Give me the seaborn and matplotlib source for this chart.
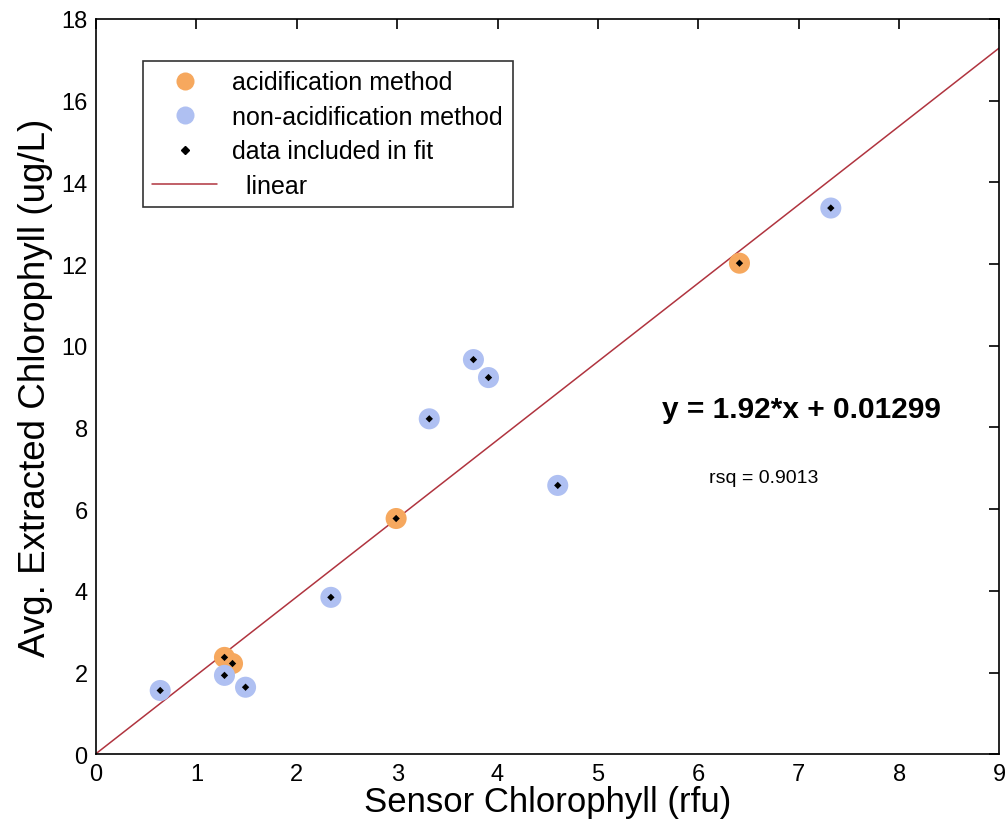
import pandas as pd
import seaborn as sns
import matplotlib.pyplot as plt
from matplotlib.lines import Line2D


# ------------------------------------------------------------------
# Data
# ------------------------------------------------------------------

acid_x = [1.28, 1.36, 2.99, 6.41]
acid_y = [2.37, 2.22, 5.77, 12.02]

nonacid_x = [0.64, 1.28, 1.49, 2.34, 3.32, 3.76, 3.91, 4.60, 7.32]
nonacid_y = [1.56, 1.93, 1.64, 3.84, 8.21, 9.66, 9.22, 6.58, 13.37]

fit_slope = 1.92
fit_intercept = 0.01299
fit_x = [0, 9]

x_ticks = list(range(0, 10))
y_ticks = list(range(0, 19, 2))

ORANGE = "#F6A85E"
BLUE = "#AFC0F2"
RED = "#B0343F"


# ------------------------------------------------------------------
# Build table
# ------------------------------------------------------------------

df = pd.DataFrame({
    "sensor": acid_x + nonacid_x,
    "extracted": acid_y + nonacid_y,
    "method": ["acidification method"] * len(acid_x) + ["non-acidification method"] * len(nonacid_x),
})

fit_df = pd.DataFrame({"x": fit_x})
fit_df["y"] = fit_slope * fit_df["x"] + fit_intercept


# ------------------------------------------------------------------
# Plot
# ------------------------------------------------------------------

sns.set_style("white")
plt.rcParams["font.family"] = ["Liberation Sans", "DejaVu Sans"]
plt.rcParams["text.color"] = "black"
plt.rcParams["axes.labelcolor"] = "black"

fig = plt.figure(figsize=(10.05, 8.29), dpi=100)
ax = fig.add_axes([0.0955, 0.089, 0.899, 0.887])

sns.lineplot(data=fit_df, x="x", y="y", color=RED, linewidth=1.1, ax=ax, zorder=2)

sns.scatterplot(data=df, x="sensor", y="extracted", hue="method",
                palette={"acidification method": ORANGE, "non-acidification method": BLUE},
                s=230, edgecolor="none", legend=False, ax=ax, zorder=3)

sns.scatterplot(data=df, x="sensor", y="extracted", marker="D", color="black",
                s=14, edgecolor="none", legend=False, ax=ax, zorder=4)

ax.set_xlim(0, 9)
ax.set_ylim(0, 18)
ax.set_xticks(x_ticks)
ax.set_yticks(y_ticks)

ax.tick_params(direction="in", top=True, right=True, length=7, width=1.2,
               labelsize=17, colors="black", pad=6)
for side in ax.spines.values():
    side.set_color("black")
    side.set_linewidth(1.2)

ax.set_xlabel("Sensor Chlorophyll (rfu)", fontsize=25, labelpad=0)
ax.set_ylabel("Avg. Extracted Chlorophyll (ug/L)", fontsize=26.5, labelpad=6)

ax.text(7.03, 8.44, "y = 1.92*x + 0.01299", fontsize=21.5, fontweight="bold",
        ha="center", va="center")
ax.text(6.65, 6.77, "rsq = 0.9013", fontsize=14, ha="center", va="center")

handles = [
    Line2D([], [], linestyle="none", marker="o", markersize=13, color=ORANGE, markeredgecolor="none"),
    Line2D([], [], linestyle="none", marker="o", markersize=13, color=BLUE, markeredgecolor="none"),
    Line2D([], [], linestyle="none", marker="D", markersize=4, color="black"),
    Line2D([], [], color=RED, linewidth=1.1),
]
labels = ["acidification method", "non-acidification method", "data included in fit", "  linear"]

leg = ax.legend(handles, labels, loc="upper left", bbox_to_anchor=(0.052, 0.943),
                borderaxespad=0, fontsize=18, frameon=True, fancybox=False,
                edgecolor="black", labelspacing=0.42, handlelength=2.6, handletextpad=0.6,
                borderpad=0.38)
leg.get_frame().set_linewidth(1.2)

fig.savefig("out.png", dpi=100)
